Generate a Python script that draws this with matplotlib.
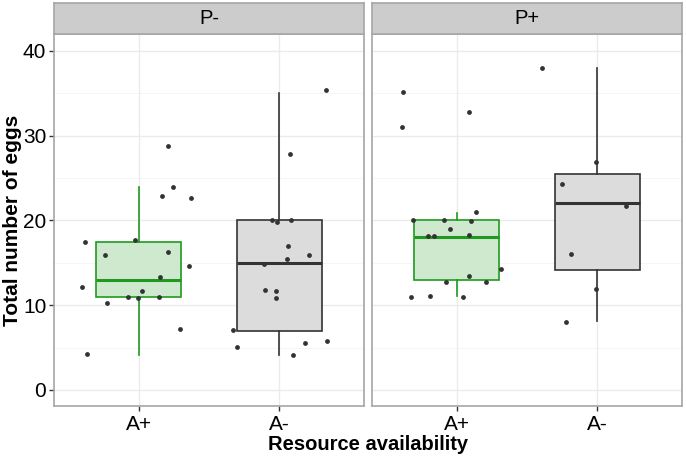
import matplotlib
matplotlib.use("Agg")
import matplotlib.pyplot as plt
import numpy as np

plt.rcParams['font.family'] = ['Liberation Sans', 'DejaVu Sans']

panels = ["P-", "P+"]
categories = ["A+", "A-"]

# jittered raw points: (offset from category centre, value)
pm_ap_off = [0.208, 0.241, 0.163, 0.371, -0.383, -0.026, -0.241, 0.208, 0.359, 0.154,
             -0.402, 0.028, -0.078, -0.007, 0.142, -0.222, 0.291, -0.366]
pm_ap_val = [28.8, 23.9, 22.9, 22.7, 17.4, 17.7, 15.9, 16.3, 14.6, 13.3,
             12.1, 11.7, 11.0, 10.8, 11.0, 10.3, 7.2, 4.2]
pm_am_off = [0.331, 0.076, -0.050, -0.019, 0.083, 0.064, 0.213, 0.052, -0.113, -0.106,
             -0.024, -0.024, -0.331, -0.298, 0.180, 0.340, 0.095]
pm_am_val = [35.4, 27.8, 20.0, 19.8, 20.0, 17.0, 15.9, 15.4, 14.9, 11.8,
             11.7, 10.8, 7.1, 5.1, 5.5, 5.8, 4.1]
pp_ap_off = [-0.383, -0.385, 0.087, 0.139, -0.310, -0.092, 0.106, -0.050, -0.201, -0.163,
             0.087, 0.314, 0.087, -0.078, 0.208, -0.324, -0.189, 0.043]
pp_ap_val = [35.2, 31.0, 32.8, 21.0, 20.1, 20.1, 19.9, 19.0, 18.2, 18.2,
             18.3, 14.3, 13.4, 12.7, 12.7, 11.0, 11.1, 11.0]
pp_am_off = [-0.397, -0.007, -0.255, 0.206, -0.187, -0.012, -0.225]
pp_am_val = [38.0, 26.9, 24.3, 21.7, 16.0, 11.9, 8.0]

# box statistics: [whisker low, q1, median, q3, whisker high]
pm_ap_box = [4.1, 11.0, 13.0, 17.5, 24.0]
pm_am_box = [4.1, 7.0, 15.0, 20.0, 35.0]
pp_ap_box = [11.1, 13.0, 18.0, 20.0, 20.9]
pp_am_box = [8.1, 14.1, 22.0, 25.5, 38.0]

yticks = [0, 10, 20, 30, 40]

data = {
    "P-": [(pm_ap_box, pm_ap_off, pm_ap_val), (pm_am_box, pm_am_off, pm_am_val)],
    "P+": [(pp_ap_box, pp_ap_off, pp_ap_val), (pp_am_box, pp_am_off, pp_am_val)],
}

W, H = 686, 457
fig = plt.figure(figsize=(W / 100, H / 100), dpi=100)

panel_x = [(54, 364), (372, 682)]
ytop, ybot = 34, 406
strip_top = 3

green_edge = "#1f9a1f"
green_fill = "#cfe9cf"
grey_edge = "#333333"
grey_fill = "#dcdcdc"
border = "#a6a6a6"

for i, p in enumerate(panels):
    x0, x1 = panel_x[i]
    ax = fig.add_axes([x0 / W, (H - ybot) / H, (x1 - x0) / W, (ybot - ytop) / H])
    ax.set_xlim(0.4, 2.6)
    ax.set_ylim(-1.9, 42.0)
    # grid
    for v in np.arange(5, 40, 10):
        ax.axhline(v, color="#f4f4f4", lw=0.6, zorder=0)
    for v in yticks:
        ax.axhline(v, color="#ebebeb", lw=1.0, zorder=0)
    for k in range(len(categories)):
        ax.axvline(k + 1, color="#ebebeb", lw=1.0, zorder=0)

    for k, (box, off, val) in enumerate(data[p]):
        pos = k + 1
        ec = green_edge if k == 0 else grey_edge
        fc = green_fill if k == 0 else grey_fill
        st = [dict(whislo=box[0], q1=box[1], med=box[2], q3=box[3], whishi=box[4], fliers=[])]
        ax.bxp(st, positions=[pos], widths=0.6, patch_artist=True, showcaps=False,
               boxprops=dict(facecolor=fc, edgecolor=ec, lw=1.2),
               whiskerprops=dict(color=ec, lw=1.2),
               medianprops=dict(color=ec, lw=2.2, solid_capstyle='butt'),
               zorder=2)
        ax.scatter(np.array(off) + pos, val, s=12, color="#333333", zorder=4, lw=0)

    ax.set_xticks([1, 2])
    ax.set_xticklabels(categories, fontsize=15, color="black")
    ax.set_yticks(yticks)
    ax.tick_params(axis='both', color="#333333", length=3.5, width=1, pad=2)
    ax.tick_params(axis='x', pad=3)
    if i == 0:
        ax.set_yticklabels([str(v) for v in yticks], fontsize=15, color="black")
        ax.set_ylabel("Total number of eggs", fontsize=15, fontweight="bold")
        ax.yaxis.set_label_coords(-0.103, 0.5)
    else:
        ax.set_yticklabels([])
        ax.tick_params(axis='y', length=0)
    for s in ax.spines.values():
        s.set_color(border)
        s.set_linewidth(1.2)

    sax = fig.add_axes([x0 / W, (H - ytop) / H, (x1 - x0) / W, (ytop - strip_top) / H])
    sax.set_facecolor("#cccccc")
    sax.set_xticks([])
    sax.set_yticks([])
    for s in sax.spines.values():
        s.set_color(border)
        s.set_linewidth(1.2)
    sax.text(0.5, 0.5, p, ha="center", va="center", fontsize=14.5, transform=sax.transAxes)

fig.text((54 + 682) / 2 / W, 1 - 445 / H, "Resource availability", ha="center", va="center",
         fontsize=14.5, fontweight="bold")

fig.savefig("out.png", dpi=100)
